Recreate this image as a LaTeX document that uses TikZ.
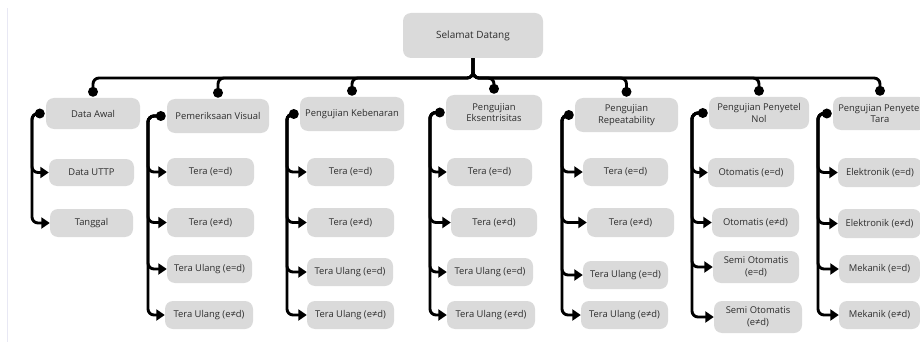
\documentclass[tikz,border=0pt]{standalone}
\usepackage{fontspec}
\setmainfont{Open Sans}
\usetikzlibrary{arrows.meta,calc}
\definecolor{boxgray}{RGB}{218,218,218}
\definecolor{txt}{RGB}{45,45,45}
\definecolor{edgec}{RGB}{232,232,244}
\newcommand\mybox[5]{\node[box,minimum width=#4pt,minimum height=#5pt] (#1) at (#2) {#3};}
\begin{document}
\begin{tikzpicture}[x=1pt,y=-1pt,
  box/.style={fill=boxgray, rounded corners=8pt, text=txt, font=\fontsize{9.4}{11.5}\selectfont, align=center, inner sep=0pt},
  conn/.style={line width=2.9pt, rounded corners=6pt, draw=black},
  arr/.style={conn, -{Triangle[length=8.5pt,width=11pt]}},
  dotc/.style={circle, fill=black, inner sep=0pt, minimum size=10pt}]
\useasboundingbox (0,0) rectangle (920,342);
\clip (0,0) rectangle (920,342);
\draw[edgec, line width=1pt] (7,8) -- (7,342);
% root
\node[box,minimum width=140pt,minimum height=45pt,font=\fontsize{10}{12}\selectfont] (root) at (473,35.5) {Selamat Datang};
\coordinate (bus) at (0,78);
% heads
\mybox{h1}{93,113.5}{Data Awal}{94}{31}
\mybox{h2}{218,116}{Pemeriksaan Visual}{102}{34}
\mybox{h3}{352,114}{Pengujian Kebenaran}{104}{34}
\mybox{h4}{494,112.5}{Pengujian\\Eksentrisitas}{96}{35}
\mybox{h5}{626.5,115}{Pengujian\\Repeatability}{103}{34}
\mybox{h6}{759,113}{Pengujian Penyetel\\Nol}{100}{32}
\mybox{h7}{880,113.5}{Pengujian Penyetel\\Tara}{94}{33}
% column 1
\mybox{a1}{91.5,172.5}{Data UTTP}{85}{27}
\mybox{a2}{91.5,223}{Tanggal}{83}{28}
% column 2
\mybox{b1}{210.5,172}{Tera (e=d)}{87}{28}
\mybox{b2}{210.5,222.5}{Tera (e≠d)}{87}{29}
\mybox{b3}{209.5,269}{Tera Ulang (e=d)}{85}{28}
\mybox{b4}{209,315}{Tera Ulang (e≠d)}{88}{28}
% column 3
\mybox{c1}{350.5,172}{Tera (e=d)}{87}{28}
\mybox{c2}{350.5,222.5}{Tera (e≠d)}{87}{29}
\mybox{c3}{350,272}{Tera Ulang (e=d)}{86}{28}
\mybox{c4}{350.5,315}{Tera Ulang (e≠d)}{87}{28}
% column 4
\mybox{d1}{489.5,172}{Tera (e=d)}{85}{28}
\mybox{d2}{494,222.5}{Tera (e≠d)}{86}{29}
\mybox{d3}{490,272}{Tera Ulang (e=d)}{86}{28}
\mybox{d4}{491,315}{Tera Ulang (e≠d)}{88}{28}
% column 5
\mybox{e1}{625.5,172}{Tera (e=d)}{85}{28}
\mybox{e2}{630.5,222.5}{Tera (e≠d)}{87}{29}
\mybox{e3}{625.5,275}{Tera Ulang (e=d)}{85}{28}
\mybox{e4}{624.5,315}{Tera Ulang (e≠d)}{87}{28}
% column 6
\mybox{f1}{751,172.5}{Otomatis (e=d)}{86}{29}
\mybox{f2}{755.5,222.5}{Otomatis (e≠d)}{87}{29}
\mybox{f3}{756,267}{Semi Otomatis\\(e=d)}{86}{32}
\mybox{f4}{758,317}{Semi Otomatis\\(e≠d)}{88}{32}
% column 7
\mybox{g1}{880,172.5}{Elektronik (e=d)}{84}{29}
\mybox{g2}{879.5,223.5}{Elektronik (e≠d)}{83}{29}
\mybox{g3}{879.5,269}{Mekanik (e=d)}{81}{28}
\mybox{g4}{879.5,315}{Mekanik (e≠d)}{81}{28}
% root to heads
\foreach \h in {h1,h2,h3,h4,h5,h6,h7}{
  \coordinate (t-\h) at ($(\h.north)+(0,-6)$);
  \draw[conn] (root.south) |- (t-\h |- bus) -- (t-\h);
}
% heads to children
\foreach \h/\v/\kids in {h1/32/{a1,a2}, h2/148/{b1,b2,b3,b4}, h3/287/{c1,c2,c3,c4}, h4/430/{d1,d2,d3,d4}, h5/562/{e1,e2,e3,e4}, h6/692/{f1,f2,f3,f4}, h7/818/{g1,g2,g3,g4}}{
  \coordinate (s-\h) at ($(\h.west)+(-6,0)$);
  \coordinate (vx) at (\v,0);
  \foreach \k in \kids {
    \draw[arr] (s-\h) -- (s-\h -| vx) |- (\k.west);
  }
}
% dots
\foreach \h in {h1,h2,h3,h4,h5,h6,h7}{
  \node[dotc] at (t-\h) {};
  \node[dotc] at (s-\h) {};
}
\end{tikzpicture}
\end{document}
